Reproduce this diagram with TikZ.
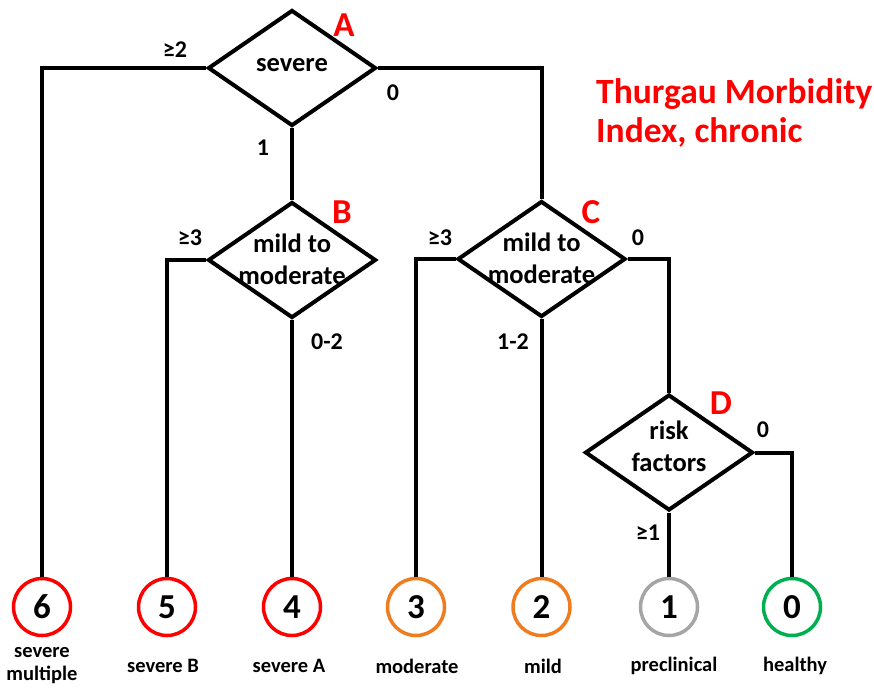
\documentclass[tikz,border=0pt]{standalone}
\usepackage{fontspec}
\setmainfont{Carlito}
\usetikzlibrary{shapes.geometric}
\definecolor{tred}{HTML}{FF0000}
\definecolor{torange}{HTML}{EE7D21}
\definecolor{tgray}{HTML}{A5A5A5}
\definecolor{tgreen}{HTML}{00B050}
\begin{document}
\begin{tikzpicture}[x=1pt,y=-1pt,
  dia/.style={shape=diamond,draw=black,line width=4pt,inner sep=0pt,minimum width=168pt,minimum height=116pt},
  dtext/.style={font=\fontsize{26.5}{32}\selectfont\bfseries,align=center,inner sep=0pt},
  elab/.style={font=\fontsize{24}{28}\selectfont\bfseries,inner sep=0pt},
  letter/.style={font=\fontsize{35}{40}\selectfont\bfseries,text=tred,inner sep=0pt},
  res/.style={circle,draw=#1,line width=3.5pt,minimum size=57pt,inner sep=0pt,font=\fontsize{35}{40}\selectfont\bfseries},
  blab/.style={font=\fontsize{20.5}{23}\selectfont\bfseries,align=center,inner sep=0pt},
  conn/.style={line width=4pt}]
\useasboundingbox (0,0) rectangle (874,688);
% diamonds
\node[dia] (A) at (292,68) {};
\node[dia] (B) at (292,260) {};
\node[dia] (C) at (541.5,259) {};
\node[dia] (D) at (669,452.5) {};
\node[dtext] (tA) at (292,65) {severe};
\node[dtext] (tB) at (292,259) {mild to\\moderate};
\node[dtext] (tC) at (541.5,258) {mild to\\moderate};
\node[dtext] (tD) at (669,446) {risk\\factors};
% letters
\node[letter] (lA) at (344,25) {A};
\node[letter] (lB) at (342,212) {B};
\node[letter] (lC) at (591,212) {C};
\node[letter] (lD) at (721,403) {D};
% result circles
\node[res=tred] (c6) at (42,607) {6};
\node[res=tred] (c5) at (167,607) {5};
\node[res=tred] (c4) at (292,607) {4};
\node[res=torange] (c3) at (416,607) {3};
\node[res=torange] (c2) at (541.5,607) {2};
\node[res=tgray] (c1) at (669,607) {1};
\node[res=tgreen] (c0) at (792,607) {0};
% bottom labels
\node[blab] (b6) at (42,666) {severe\\multiple};
\node[blab] (b5) at (163,666) {severe B};
\node[blab] (b4) at (289,666) {severe A};
\node[blab] (b3) at (417,666) {moderate};
\node[blab] (b2) at (543,666) {mild};
\node[blab] (b1) at (674,666) {preclinical};
\node[blab] (b0) at (795,666) {healthy};
% connectors
\draw[conn] (A.west) -| (c6.north);
\draw[conn] (A.east) -| (C.north);
\draw[conn] (A.south) -- (B.north);
\draw[conn] (B.west) -| (c5.north);
\draw[conn] (B.south) -- (c4.north);
\draw[conn] (C.west) -| (c3.north);
\draw[conn] (C.east) -| (D.north);
\draw[conn] (C.south) -- (c2.north);
\draw[conn] (D.south) -- (c1.north);
\draw[conn] (D.east) -| (c0.north);
% edge labels
\node[elab] (e1) at (175,50) {≥2};
\node[elab] (e2) at (393,93) {0};
\node[elab] (e3) at (263,148) {1};
\node[elab] (e4) at (190,238) {≥3};
\node[elab] (e5) at (327,342) {0-2};
\node[elab] (e6) at (440,238) {≥3};
\node[elab] (e7) at (638,238) {0};
\node[elab] (e8) at (513,342) {1-2};
\node[elab] (e9) at (763,430) {0};
\node[elab] (e10) at (648,533) {≥1};
% title
\node[font=\fontsize{35.5}{39}\selectfont\bfseries,text=tred,align=left,anchor=west,inner sep=0pt] (title) at (596,113) {Thurgau Morbidity\\Index, chronic};
\end{tikzpicture}
\end{document}
